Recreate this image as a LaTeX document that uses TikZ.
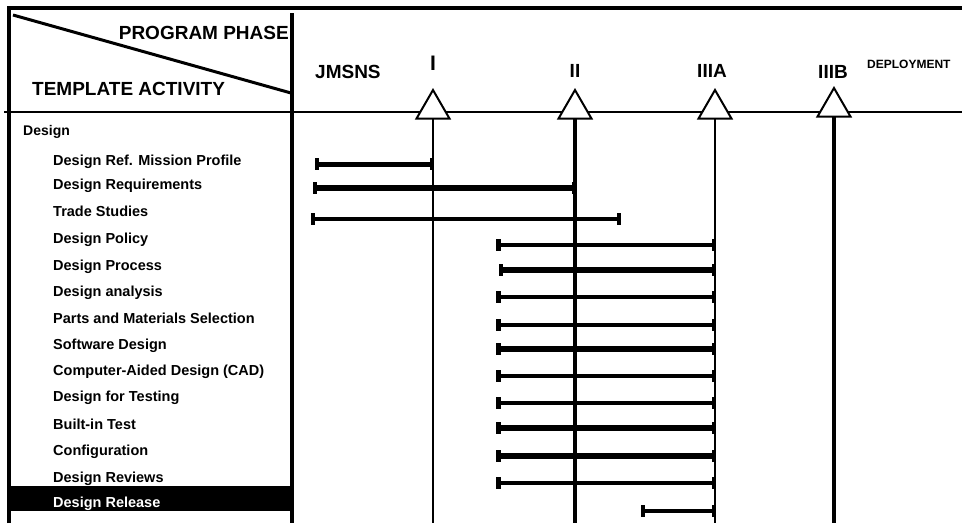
\documentclass[tikz,border=0pt]{standalone}
\usepackage{fontspec}
\setmainfont{Liberation Sans}
\usetikzlibrary{shapes.geometric}
\newcommand\gbar[4]{%
  \draw[line width=#4] (#2,#1) -- (#3,#1);
  \fill (#2-2.2,#1-6) rectangle (#2+2.2,#1+6);
  \fill (#3-2.4,#1-6) rectangle (#3+2.4,#1+6);}
\begin{document}
\begin{tikzpicture}[x=1pt,y=-1pt,
  hdr/.style={font=\fontsize{19}{21}\selectfont\bfseries, inner sep=0pt},
  itm/.style={font=\fontsize{14.5}{16}\selectfont\bfseries, inner sep=0pt, anchor=base west},
  mstone/.style={regular polygon, regular polygon sides=3, draw, line width=2pt,
    fill=white, minimum size=38pt, inner sep=0pt, outer sep=0pt},
  frame/.style={line width=4pt},
]
\useasboundingbox (0,0) rectangle (962,523);
\coordinate (bot) at (0,523);
% frame
\draw[frame, line join=miter] (9,523) -- (9,8) -- (962,8);
\draw[frame] (292,13) -- (292,523);
\draw[line width=2.5pt] (4,112) -- (962,112);
\draw[line width=3pt] (13,15) -- (291,93);
% header texts
\node[hdr, anchor=base east] (pp) at (289,39.5) {PROGRAM PHASE};
\node[hdr, anchor=base west] (ta) at (32,95.5) {TEMPLATE ACTIVITY};
\node[hdr, anchor=base west] (jm) at (315,78) {JMSNS};
\node[hdr, anchor=base, font=\fontsize{21}{23}\selectfont\bfseries] (t1) at (433,70.5) {I};
\node[hdr, anchor=base] (t2) at (575,77.5) {II};
\node[hdr, anchor=base] (t3) at (712,77.5) {IIIA};
\node[hdr, anchor=base] (t4) at (833,78) {IIIB};
\node[hdr, anchor=base west, font=\fontsize{12}{14}\selectfont\bfseries] (dep) at (867,68.3) {DEPLOYMENT};
% milestones
\node[mstone] (m1) at (433,109) {};
\node[mstone] (m2) at (575,109) {};
\node[mstone] (m3) at (715,109) {};
\node[mstone] (m4) at (834,107) {};
\draw[line width=2pt] (m1.south) -- (m1.south |- bot);
\draw[line width=4.5pt] (m2.south) -- (m2.south |- bot);
\draw[line width=2pt] (m3.south) -- (m3.south |- bot);
\draw[line width=4.5pt] (m4.south) -- (m4.south |- bot);
% highlight
\fill (10,486) rectangle (290,511);
% labels
\node[itm, font=\fontsize{14}{16}\selectfont\bfseries] (l0) at (23,135) {Design};
\node[itm] (l1) at (53,165.2) {Design Ref. Mission Profile};
\node[itm] (l2) at (53,189.2) {Design Requirements};
\node[itm] (l3) at (53,216.2) {Trade Studies};
\node[itm] (l4) at (53,243.2) {Design Policy};
\node[itm] (l5) at (53,270.2) {Design Process};
\node[itm] (l6) at (53,296.2) {Design analysis};
\node[itm] (l7) at (53,323.2) {Parts and Materials Selection};
\node[itm] (l8) at (53,349.2) {Software Design};
\node[itm] (l9) at (53,375.2) {Computer-Aided Design (CAD)};
\node[itm] (l10) at (53,401.2) {Design for Testing};
\node[itm] (l11) at (53,429.2) {Built-in Test};
\node[itm] (l12) at (53,455.2) {Configuration};
\node[itm] (l13) at (53,482.2) {Design Reviews};
\node[itm, text=white] (l14) at (53,507.2) {Design Release};
% bars
\gbar{164}{317}{432}{5pt}
\gbar{188}{315}{574}{6pt}
\gbar{219}{313}{619}{4pt}
\gbar{245}{498.5}{714}{3.5pt}
\gbar{270}{501}{714}{6pt}
\gbar{297}{498.5}{714}{3.5pt}
\gbar{325}{498.5}{714}{3.5pt}
\gbar{349}{498.5}{714}{6pt}
\gbar{376}{498.5}{714}{3.5pt}
\gbar{403}{498.5}{714}{3.5pt}
\gbar{428}{498.5}{714}{6pt}
\gbar{456}{498.5}{714}{6pt}
\gbar{483}{498.5}{714}{3.5pt}
\gbar{511}{643}{714}{3.5pt}
\end{tikzpicture}
\end{document}
